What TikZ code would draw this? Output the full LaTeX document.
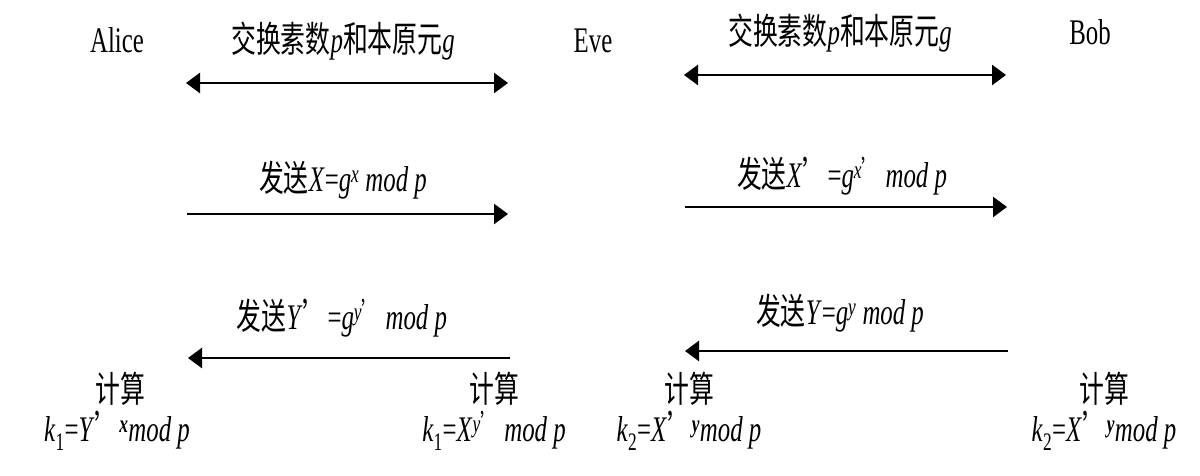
\documentclass[tikz,border=0pt]{standalone}
\usepackage{fontspec}
\usepackage{graphicx}
\setmainfont{Liberation Serif}
\newfontfamily\cjk{Noto Sans CJK SC}
\usetikzlibrary{arrows.meta}
\newcommand\zh[1]{{\cjk #1}}
\newcommand\nt[1]{\scalebox{0.69}[1]{#1}}
\newcommand\pr{{\cjk ’}}
\begin{document}
\begin{tikzpicture}[x=1pt,y=1pt,
  lbl/.style={anchor=base,inner sep=0pt,font=\fontsize{36}{42}\selectfont},
  msg/.style={line width=2.5pt,-{Triangle[length=14pt,width=20pt]}},
  dmsg/.style={line width=2.5pt,{Triangle[length=14pt,width=20pt]}-{Triangle[length=14pt,width=20pt]}}]
\useasboundingbox (0,0) rectangle (1200,476);
% parties
\node[lbl] (alice) at (117,423) {\nt{Alice}};
\node[lbl] (eve) at (593,423) {\nt{Eve}};
\node[lbl] (bob) at (1090,431) {\nt{Bob}};
% row 1
\node[lbl] (l1a) at (343,423) {\nt{\zh{交换素数}\textit{p}\zh{和本原元}\textit{g}}};
\node[lbl] (l1b) at (840,431) {\nt{\zh{交换素数}\textit{p}\zh{和本原元}\textit{g}}};
\coordinate (a1s) at (186,393); \coordinate (a1e) at (508,393);
\coordinate (b1s) at (684,401); \coordinate (b1e) at (1006,401);
\draw[dmsg] (a1s) -- (a1e);
\draw[dmsg] (b1s) -- (b1e);
% row 2
\node[lbl] (l2a) at (343,284) {\nt{\zh{发送}\textit{X}=\textit{g}\textsuperscript{\textit{x}} \textit{mod p}}};
\node[lbl] (l2b) at (842,288) {\nt{\zh{发送}\textit{X}\pr=\textit{g}\textsuperscript{\textit{x}\pr} \textit{mod p}}};
\coordinate (a2s) at (187,262); \coordinate (a2e) at (508,262);
\coordinate (b2s) at (685,269); \coordinate (b2e) at (1007,269);
\draw[msg] (a2s) -- (a2e);
\draw[msg] (b2s) -- (b2e);
% row 3
\node[lbl] (l3a) at (342,146) {\nt{\zh{发送}\textit{Y}\pr=\textit{g}\textsuperscript{\textit{y}\pr} \textit{mod p}}};
\node[lbl] (l3b) at (840,151) {\nt{\zh{发送}\textit{Y}=\textit{g}\textsuperscript{\textit{y}} \textit{mod p}}};
\coordinate (a3s) at (510,118); \coordinate (a3e) at (188,118);
\coordinate (b3s) at (1008,125); \coordinate (b3e) at (685,125);
\draw[msg] (a3s) -- (a3e);
\draw[msg] (b3s) -- (b3e);
% computations
\node[lbl] (c1) at (120,73) {\nt{\zh{计算}}};
\node[lbl] (c2) at (494,73) {\nt{\zh{计算}}};
\node[lbl] (c3) at (689,73) {\nt{\zh{计算}}};
\node[lbl] (c4) at (1104,73) {\nt{\zh{计算}}};
\node[lbl] (k1) at (117,34) {\nt{\textit{k}\textsubscript{1}=\textit{Y}\pr\textsuperscript{\textit{\textbf{x}}}\textit{mod p}}};
\node[lbl] (k2) at (494,34) {\nt{\textit{k}\textsubscript{1}=\textit{X}\textsuperscript{\textit{y}\pr} \textit{mod p}}};
\node[lbl] (k3) at (689,34) {\nt{\textit{k}\textsubscript{2}=\textit{X}\pr\textsuperscript{\textit{\textbf{y}}}\textit{mod p}}};
\node[lbl] (k4) at (1104,34) {\nt{\textit{k}\textsubscript{2}=\textit{X}\pr\textsuperscript{\textit{\textbf{y}}}\textit{mod p}}};
\end{tikzpicture}
\end{document}
